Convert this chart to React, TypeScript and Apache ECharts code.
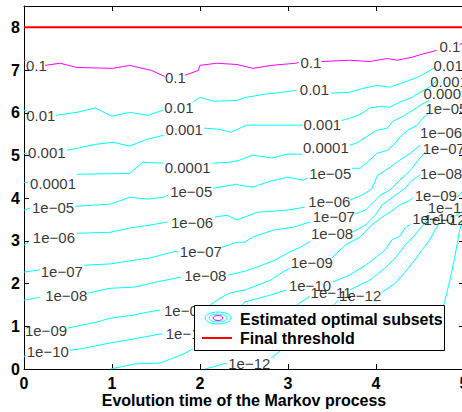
import React, { useEffect, useRef } from "react";
import * as echarts from "echarts";

const FONT = '"Liberation Sans", Arial, Helvetica, sans-serif';
const CYAN = "#00ffff";
const MAGENTA = "#ff00ff";

const xTicks = [0, 1, 2, 3, 4, 5];
const yMax = 8.5;
const finalThreshold = 8;
const xTitle = "Evolution time of the Markov process";
const legendNames = ["Estimated optimal subsets", "Final threshold"];

// level texts
const levels = ["0.1", "0.01", "0.001", "0.0001", "1e\u221205", "1e\u221206", "1e\u221207", "1e\u221208", "1e\u221209", "1e\u221210", "1e\u221211", "1e\u221212"];

// contour segments (x: evolution time, y: threshold)
const c01 = [
  [[0, 7.23], [0.02, 7.23]],
  [[0.24, 7.11], [0.41, 7.16], [0.6, 7.06], [1.01, 7.04], [1.2, 7.11], [1.45, 6.99], [1.6, 6.85]],
  [[1.83, 6.88], [1.98, 6.99], [2.0, 7.11], [2.19, 7.16], [2.42, 7.13], [2.6, 7.04], [2.81, 7.11], [3.09, 7.16], [3.12, 7.18]],
  [[3.38, 7.2], [3.7, 7.23], [3.93, 7.2], [4.13, 7.27], [4.24, 7.23], [4.41, 7.3], [4.52, 7.37], [4.69, 7.46]],
  [[4.95, 7.6], [5, 7.63]],
];
const c001 = [
  [[0, 6.06], [0.03, 6.04]],
  [[0.36, 5.94], [0.6, 6.01], [0.81, 6.11], [1.0, 5.92], [1.2, 6.01], [1.41, 5.94], [1.58, 6.06]],
  [[1.92, 6.25], [2.0, 6.36], [2.15, 6.27], [2.42, 6.29], [2.52, 6.36], [2.73, 6.43], [3.01, 6.5], [3.1, 6.53]],
  [[3.49, 6.46], [3.7, 6.48], [3.85, 6.57], [4.01, 6.64], [4.16, 6.6], [4.31, 6.71], [4.47, 6.83], [4.58, 6.95], [4.67, 7.06]],
];
const c0001 = [
  [[0, 5.05], [0.03, 5.05]],
  [[0.49, 5.12], [0.61, 5.17], [0.81, 5.26], [1.01, 5.31], [1.2, 5.22], [1.4, 5.38], [1.58, 5.47]],
  [[2.05, 5.64], [2.23, 5.61], [2.35, 5.54], [2.53, 5.71], [2.82, 5.71], [3.02, 5.71], [3.17, 5.71]],
  [[3.61, 5.82], [3.7, 5.87], [3.82, 5.96], [3.93, 6.11], [4.05, 6.15], [4.16, 6.13], [4.27, 6.25], [4.39, 6.34], [4.5, 6.48], [4.61, 6.6], [4.69, 6.76]],
];
const c00001 = [
  [[0, 4.37], [0.05, 4.37]],
  [[0.6, 4.56], [1.2, 4.58], [1.35, 4.84], [1.58, 4.82]],
  [[2.14, 4.82], [2.34, 4.84], [2.45, 4.89], [2.6, 5.01], [2.82, 4.94], [2.99, 5.03], [3.16, 5.03]],
  [[3.7, 5.24], [3.78, 5.29], [3.9, 5.45], [4.01, 5.59], [4.13, 5.64], [4.19, 5.8], [4.31, 5.92], [4.42, 6.06], [4.52, 6.2], [4.61, 6.29]],
];
const c1e05 = [
  [[0, 3.72], [0.07, 3.77]],
  [[0.58, 3.81], [0.98, 3.86], [1.2, 4.02], [1.4, 3.98], [1.58, 4.02], [1.64, 4.07]],
  [[2.15, 4.23], [2.42, 4.33], [2.45, 4.3], [2.6, 4.26], [2.8, 4.4], [3.0, 4.49], [3.17, 4.42], [3.22, 4.47]],
  [[3.73, 4.7], [3.82, 4.7], [3.93, 4.89], [4.01, 5.05], [4.13, 5.12], [4.22, 5.29], [4.27, 5.43], [4.36, 5.59], [4.47, 5.71], [4.53, 5.87], [4.61, 6.01]],
];
const c1e06 = [
  [[0, 2.9], [0.05, 2.97]],
  [[0.6, 3.18], [0.98, 3.2], [1.2, 3.3], [1.43, 3.37], [1.63, 3.44]],
  [[2.17, 3.56], [2.31, 3.6], [2.42, 3.49], [2.51, 3.56], [2.65, 3.67], [2.99, 3.72], [3.19, 3.79]],
  [[3.7, 3.95], [3.84, 4.07], [3.95, 4.21], [4.02, 4.54], [4.16, 4.72], [4.27, 4.89], [4.39, 5.05], [4.5, 5.24]],
];
const c1e07 = [
  [[0, 2.27], [0.18, 2.32]],
  [[0.68, 2.43], [0.98, 2.46], [1.26, 2.55], [1.43, 2.6], [1.69, 2.74], [1.75, 2.76]],
  [[2.25, 2.85], [2.42, 2.97], [2.51, 2.97], [2.6, 3.09], [2.83, 3.25], [3.06, 3.32], [3.25, 3.44]],
  [[3.76, 3.63], [3.88, 3.72], [4.05, 4.07], [4.16, 4.19], [4.27, 4.42], [4.39, 4.65], [4.48, 4.89], [4.56, 5.08]],
];
const c1e08 = [
  [[0, 1.61], [0.18, 1.68]],
  [[0.73, 1.78], [0.98, 1.89], [1.26, 1.92], [1.51, 2.04], [1.78, 2.15]],
  [[2.32, 2.2], [2.51, 2.29], [2.68, 2.41], [2.85, 2.55], [3.02, 2.74], [3.14, 2.85], [3.25, 2.99]],
  [[3.73, 3.2], [3.88, 3.37], [3.99, 3.6], [4.07, 3.84], [4.22, 4.07], [4.33, 4.23], [4.41, 4.42], [4.5, 4.54]],
];
const c1e09 = [
  [[0.5, 0.96], [0.83, 1.1], [0.98, 1.19], [1.24, 1.26], [1.4, 1.33], [1.55, 1.38]],
  [[2.08, 1.45], [2.23, 1.66], [2.34, 1.78], [2.51, 1.85], [2.6, 1.92], [2.8, 2.08], [2.94, 2.27], [3.02, 2.36]],
  [[3.5, 2.6], [3.65, 2.9], [3.82, 3.09], [3.95, 3.37], [4.05, 3.53], [4.16, 3.67], [4.27, 3.84], [4.39, 3.95], [4.42, 4.02]],
  [[4.92, 4.02], [5.0, 4.2]],
];
const c1e10 = [
  [[0, 0.28], [0.02, 0.33]],
  [[0.52, 0.44], [0.64, 0.47], [0.98, 0.61], [1.24, 0.7], [1.55, 0.82], [1.58, 0.82]],
  [[2.1, 0.87], [2.34, 1.19], [2.51, 1.57], [2.8, 1.73], [2.98, 1.85]],
  [[3.51, 2.04], [3.7, 2.2], [3.88, 2.43], [3.99, 2.6], [4.1, 2.78], [4.18, 3.02], [4.27, 3.11], [4.33, 3.3], [4.39, 3.39]],
  [[4.9, 3.58], [5.0, 3.72]],
];
const c1e11 = [
  [[0.98, 0], [1.26, 0.12], [1.55, 0.14], [1.81, 0.35], [1.92, 0.47]],
  [[2.45, 0.63], [2.8, 1.03], [3.02, 1.38], [3.25, 1.71]],
  [[3.7, 1.85], [3.93, 2.08], [4.1, 2.36], [4.22, 2.6], [4.33, 2.9], [4.44, 3.13], [4.56, 3.44], [4.61, 3.6]],
];
const c1e12 = [
  [[2.06, 0], [2.15, 0.05], [2.3, 0.14]],
  [[2.81, 0.26], [2.94, 0.47], [3.14, 0.73], [3.36, 1.15], [3.57, 1.61]],
  [[4.07, 1.8], [4.22, 2.01], [4.33, 2.27], [4.44, 2.55], [4.52, 2.78], [4.61, 3.02], [4.67, 3.25], [4.73, 3.44]],
  [[4.77, 1.5], [4.84, 2.08], [4.9, 2.67], [4.95, 3.25], [4.98, 3.44]],
];

// contour label anchors
const l01 = [[0.14, 7.11], [1.72, 6.83], [3.26, 7.18], [4.84, 7.56]];
const l001 = [[0.19, 5.94], [1.76, 6.13], [3.3, 6.55], [4.82, 7.11]];
const l0001 = [[0.26, 5.08], [1.82, 5.61], [3.39, 5.73], [4.83, 6.74]];
const l00001 = [[0.33, 4.35], [1.86, 4.73], [3.43, 5.19], [4.8, 6.46]];
const l1e05 = [[0.33, 3.79], [1.9, 4.16], [3.48, 4.58], [4.8, 6.11]];
const l1e06 = [[0.34, 3.09], [1.91, 3.44], [3.47, 3.93], [4.74, 5.54]];
const l1e07 = [[0.43, 2.29], [2.01, 2.76], [3.52, 3.56], [4.77, 5.17]];
const l1e08 = [[0.48, 1.71], [2.06, 2.18], [3.5, 3.18], [4.74, 4.58]];
const l1e09 = [[0.25, 0.91], [1.83, 1.38], [3.27, 2.5], [4.68, 4.07]];
const l1e10 = [[0.27, 0.42], [1.85, 0.82], [3.25, 1.96], [4.65, 3.53]];
const l1e11 = [[2.17, 0.58], [3.49, 1.8], [4.82, 3.77]];
const l1e12 = [[2.56, 0.12], [3.82, 1.73], [4.78, 3.5]];

const contourSegs = [c01, c001, c0001, c00001, c1e05, c1e06, c1e07, c1e08, c1e09, c1e10, c1e11, c1e12];
const contourLabels = [l01, l001, l0001, l00001, l1e05, l1e06, l1e07, l1e08, l1e09, l1e10, l1e11, l1e12];

function buildOption() {
  const series: any[] = [];
  contourSegs.forEach((segs, i) => {
    segs.forEach((seg) => {
      series.push({
        type: "line",
        data: seg,
        symbol: "none",
        silent: true,
        z: 2,
        lineStyle: { color: i === 0 ? MAGENTA : CYAN, width: 1 },
        itemStyle: { color: i === 0 ? MAGENTA : CYAN },
      });
    });
  });
  series.push({
    type: "line",
    data: [[xTicks[0], finalThreshold], [xTicks[xTicks.length - 1], finalThreshold]],
    symbol: "none",
    silent: true,
    z: 3,
    lineStyle: { color: "#ff0000", width: 2 },
  });
  const labelData: any[] = [];
  contourLabels.forEach((pts, i) => {
    pts.forEach((p) => labelData.push({ name: levels[i], value: p }));
  });
  series.push({
    type: "scatter",
    data: labelData,
    symbolSize: 0,
    silent: true,
    z: 4,
    itemStyle: { color: "rgba(0,0,0,0)" },
    label: {
      show: true,
      position: "inside",
      formatter: "{b}",
      color: "#000",
      fontSize: 15,
      fontFamily: FONT,
    },
  });

  const axisCommon = {
    type: "value",
    axisLine: { show: true, onZero: false, lineStyle: { color: "#000", width: 1 } },
    axisTick: { show: true, inside: true, length: 5, lineStyle: { color: "#000", width: 1 } },
    splitLine: { show: false },
  };
  const tickLabel = { color: "#000", fontSize: 16, fontWeight: "bold", fontFamily: FONT };

  return {
    animation: false,
    backgroundColor: "#fff",
    grid: { left: 24, top: 6, width: 440, height: 363, containLabel: false, outerBoundsMode: "none" },
    xAxis: [
      { ...axisCommon, position: "bottom", min: 0, max: 5, interval: 1, axisLabel: { ...tickLabel, margin: 6 } },
      { ...axisCommon, position: "top", min: 0, max: 5, interval: 1, axisLabel: { show: false } },
    ],
    yAxis: [
      { ...axisCommon, position: "left", min: 0, max: yMax, interval: 1, axisLabel: { ...tickLabel, margin: 4, showMaxLabel: false } },
      { ...axisCommon, position: "right", min: 0, max: yMax, interval: 1, axisLabel: { show: false } },
    ],
    series,
    graphic: [
      { type: "text", x: 244, y: 400, z: 100, style: { text: xTitle, font: `bold 16px ${FONT}`, fill: "#000", align: "center", verticalAlign: "middle" } },
      { type: "rect", z: 100, shape: { x: 194.5, y: 305.5, width: 250, height: 45 }, style: { fill: "#fff", stroke: "#000", lineWidth: 1 } },
      { type: "ellipse", z: 101, shape: { cx: 218, cy: 318, rx: 13, ry: 6 }, style: { fill: "none", stroke: CYAN, lineWidth: 1 } },
      { type: "ellipse", z: 101, shape: { cx: 218, cy: 318, rx: 9, ry: 4 }, style: { fill: "none", stroke: CYAN, lineWidth: 1 } },
      { type: "ellipse", z: 101, shape: { cx: 218, cy: 318, rx: 5, ry: 2.5 }, style: { fill: "none", stroke: MAGENTA, lineWidth: 1 } },
      { type: "line", z: 101, shape: { x1: 202, y1: 338, x2: 232, y2: 338 }, style: { stroke: "#ff0000", lineWidth: 2 } },
      { type: "text", x: 240, y: 319, z: 101, style: { text: legendNames[0], font: `bold 16px ${FONT}`, fill: "#000", align: "left", verticalAlign: "middle" } },
      { type: "text", x: 240, y: 338, z: 101, style: { text: legendNames[1], font: `bold 16px ${FONT}`, fill: "#000", align: "left", verticalAlign: "middle" } },
    ],
  };
}

export default function App() {
  const ref = useRef<HTMLDivElement>(null);
  useEffect(() => {
    const chart = echarts.init(ref.current!, null, { renderer: "svg" });
    chart.setOption(buildOption() as any);
    return () => chart.dispose();
  }, []);
  return (
    <div
      ref={ref}
      style={{ position: "absolute", left: 0, top: 0, width: 462, height: 412, background: "#fff" }}
    />
  );
}
